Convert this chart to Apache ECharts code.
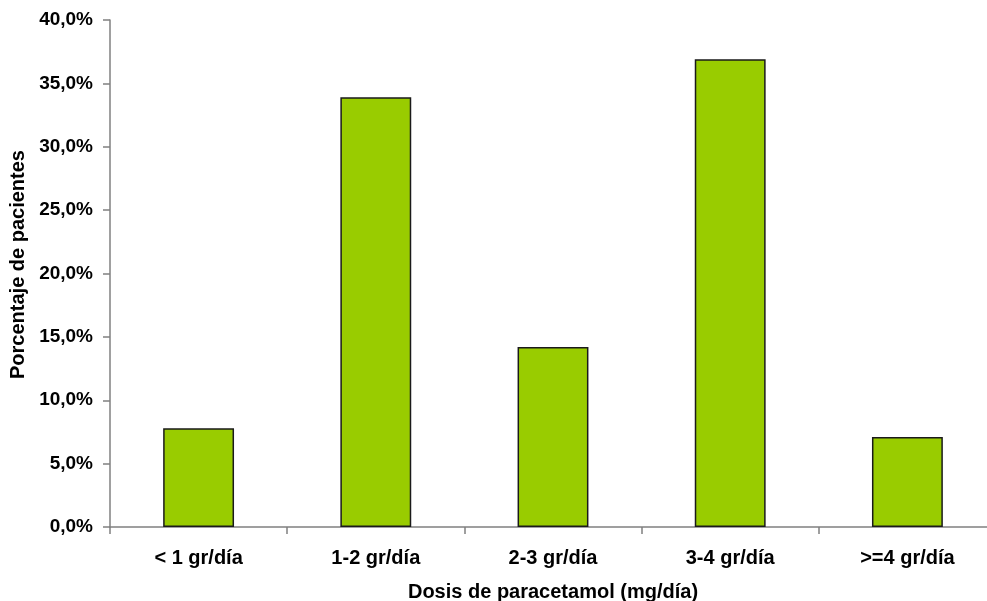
<!DOCTYPE html>
<html>
<head>
<meta charset="utf-8">
<script src="https://cdn.jsdelivr.net/npm/echarts@6/dist/echarts.min.js"></script>
<style>
  html, body { margin: 0; padding: 0; background: #fff; }
  #chart { width: 987px; height: 601px; }
</style>
</head>
<body>
<div id="chart"></div>
<script>
// Dose categories and share of patients (%)
const categories = ['< 1 gr/día', '1-2 gr/día', '2-3 gr/día', '3-4 gr/día', '>=4 gr/día'];
const porcentajes = [7.8, 33.9, 14.2, 36.9, 7.1];
const yTicks = { min: 0, max: 40, interval: 5 };

const font = '"Liberation Sans", Arial, sans-serif';
const chart = echarts.init(document.getElementById('chart'), null, { renderer: 'canvas' });

chart.setOption({
  animation: false,
  backgroundColor: '#ffffff',
  grid: { left: 110, top: 20, width: 886, height: 507, containLabel: false, outerBoundsMode: 'none' },
  xAxis: {
    type: 'category',
    data: categories,
    name: 'Dosis de paracetamol (mg/día)',
    nameLocation: 'middle',
    nameGap: 55,
    nameTextStyle: { fontFamily: font, fontWeight: 'bold', fontSize: 20, color: '#000' },
    axisLine: { lineStyle: { color: '#808080', width: 1.5 } },
    axisTick: { show: true, length: 7, alignWithLabel: false, lineStyle: { color: '#808080', width: 1.5 } },
    axisLabel: { fontFamily: font, fontWeight: 'bold', fontSize: 20, color: '#000', margin: 21 },
    splitLine: { show: false }
  },
  yAxis: {
    type: 'value',
    min: yTicks.min,
    max: yTicks.max,
    interval: yTicks.interval,
    name: 'Porcentaje de pacientes',
    nameLocation: 'middle',
    nameGap: 82,
    nameTextStyle: { fontFamily: font, fontWeight: 'bold', fontSize: 20, color: '#000', padding: [0, 0, 0, 18] },
    axisLine: { show: true, lineStyle: { color: '#808080', width: 1.5 } },
    axisTick: { show: true, length: 7, lineStyle: { color: '#808080', width: 1.5 } },
    axisLabel: {
      fontFamily: font, fontWeight: 'bold', fontSize: 19, color: '#000', margin: 17,
      formatter: v => v.toFixed(1).replace('.', ',') + '%'
    },
    splitLine: { show: false }
  },
  series: [{
    type: 'bar',
    data: porcentajes,
    barWidth: '40%',
    itemStyle: { color: '#99CC00', borderColor: '#1a1a1a', borderWidth: 1.5 }
  }]
});
</script>
</body>
</html>
